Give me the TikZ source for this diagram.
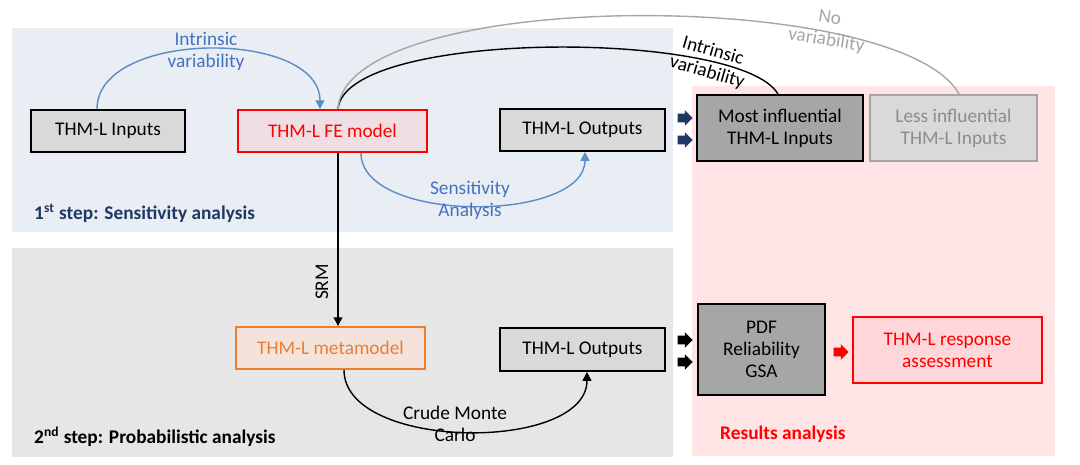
\documentclass[tikz,border=0pt]{standalone}
\usepackage{fontspec}
\setmainfont{Carlito}
\usetikzlibrary{arrows.meta,shapes.arrows}

\definecolor{panelblue}{HTML}{E9EDF4}
\definecolor{panelgrey}{HTML}{E6E6E6}
\definecolor{panelpink}{HTML}{FFE4E6}
\definecolor{boxgrey}{HTML}{D9D9D9}
\definecolor{darkgrey}{HTML}{A6A6A6}
\definecolor{fefill}{HTML}{EFDFE4}
\definecolor{orangeline}{HTML}{ED7D31}
\definecolor{metafill}{HTML}{F3E3DB}
\definecolor{respfill}{HTML}{FFD6D9}
\definecolor{curveblue}{HTML}{5B8CC8}
\definecolor{textblue}{HTML}{4472C4}
\definecolor{navy}{HTML}{1F3864}
\definecolor{lessgrey}{HTML}{8C8C8C}

\begin{document}
\begin{tikzpicture}[x=0.02cm, y=-0.02cm,
    every node/.style={font=\fontsize{11}{12.5}\selectfont},
    box/.style={draw, line width=1.1pt, minimum height=0.84cm, align=center, inner sep=1pt},
    blockarr/.style={single arrow, draw=none, minimum height=0.3cm, inner xsep=0pt, inner ysep=0.08cm,
        single arrow head extend=0.07cm, single arrow head indent=0cm},
    tip/.style={-{Triangle[length=5pt,width=5pt]}}]

    \useasboundingbox (0,0) rectangle (1080,464);

    % panels
    \fill[panelblue] (12,28) rectangle (673,232);
    \fill[panelgrey] (12,248) rectangle (673,457);
    \fill[panelpink] (692,86) rectangle (1055,456);

    % 1st step
    \node[box, fill=boxgrey, minimum width=3.08cm] (inp) at (108,131) {THM-L Inputs};
    \node[box, draw=red, fill=fefill, text=red, minimum width=3.78cm] (fe) at (332.5,131) {THM-L FE model};
    \node[box, fill=boxgrey, minimum width=3.3cm] (out1) at (582.5,130) {THM-L Outputs};
    \node[box, fill=darkgrey, minimum width=3.32cm, minimum height=1.32cm] (most) at (780,128) {Most influential\\THM-L Inputs};
    \node[box, draw=darkgrey, fill=boxgrey, text=lessgrey, minimum width=3.34cm, minimum height=1.32cm] (less) at (953.5,128) {Less influential\\THM-L Inputs};

    \draw[curveblue, line width=0.8pt, tip] ([xshift=-0.22cm]inp.north) .. controls +(0cm,1.6cm) and +(0cm,1.6cm) .. ([xshift=-0.25cm]fe.north);
    \node[text=textblue, align=center] (lbint) at (206,51) {Intrinsic\\variability};
    \draw[curveblue, line width=0.8pt, tip] ([xshift=0.57cm]fe.south) .. controls +(0cm,-1.42cm) and +(0cm,-1.42cm) .. ([xshift=0.05cm]out1.south);
    \node[text=textblue, align=center] (lbsens) at (470,200) {Sensitivity\\Analysis};

    \draw[line width=0.8pt] ([xshift=0.11cm]fe.north) .. controls +(0.14cm,1.6cm) and +(-0.76cm,1.3cm) .. ([xshift=-0.04cm]most.north);
    \node[align=center, rotate=-16] (lbint2) at (710,62) {Intrinsic\\variability};
    \draw[darkgrey, line width=0.8pt] ([xshift=0.11cm]fe.north) .. controls +(0.14cm,2.44cm) and +(-1.18cm,2.14cm) .. ([xshift=0.11cm]less.north);
    \node[text=darkgrey, align=center, rotate=-9] (lbnov) at (828,30) {No\\variability};

    \node[blockarr, fill=navy] (ba1) at (683,118) {};
    \node[blockarr, fill=navy] (ba2) at (683,140) {};

    \node[text=navy, anchor=west, font=\fontsize{11}{12.5}\selectfont\bfseries] (step1) at (28,213) {1\textsuperscript{st} step: Sensitivity analysis};

    % 2nd step
    \node[box, draw=orangeline, fill=metafill, text=orangeline, minimum width=3.78cm] (meta) at (330.5,348) {THM-L metamodel};
    \node[box, fill=boxgrey, minimum width=3.3cm, minimum height=0.86cm] (out2) at (582.5,349.5) {THM-L Outputs};
    \node[box, fill=darkgrey, minimum width=2.54cm, minimum height=1.82cm] (pdf) at (761.5,349.5) {PDF\\Reliability\\GSA};
    \node[box, draw=red, fill=respfill, text=red, minimum width=3.78cm, minimum height=1.32cm] (resp) at (947.5,350) {THM-L response\\assessment};

    \draw[line width=0.8pt, tip] ([xshift=0.11cm]fe.south) -- ([xshift=0.11cm]fe.south |- meta.north);
    \node[rotate=90] (lbsrm) at (322,282) {SRM};
    \draw[line width=0.8pt, tip] ([xshift=0.27cm]meta.south) .. controls +(0cm,-1.62cm) and +(0cm,-1.62cm) .. ([xshift=0.09cm]out2.south);
    \node[align=center] (lbmc) at (455,424) {Crude Monte\\Carlo};

    \node[blockarr, fill=black] (ba3) at (683,340) {};
    \node[blockarr, fill=black] (ba4) at (683,362) {};
    \node[blockarr, fill=red] (ba5) at (839,352) {};

    \node[anchor=west, font=\fontsize{11}{12.5}\selectfont\bfseries] (step2) at (28,437) {2\textsuperscript{nd} step: Probabilistic analysis};
    \node[text=red, anchor=west, font=\fontsize{11}{12.5}\selectfont\bfseries] (res) at (714,434) {Results analysis};
\end{tikzpicture}
\end{document}
